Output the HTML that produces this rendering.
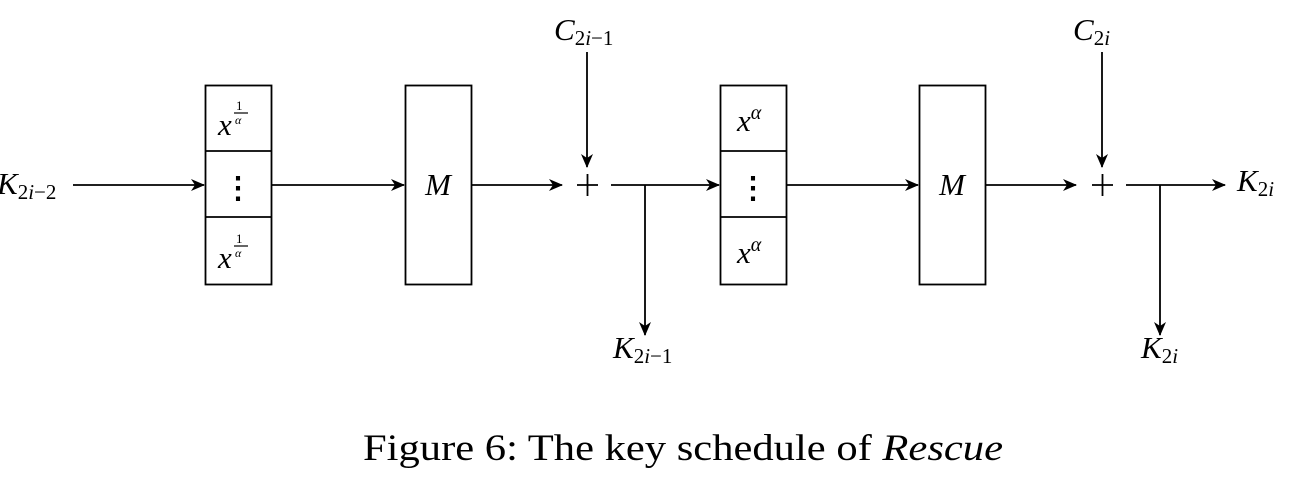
<!DOCTYPE html>
<html><head><meta charset="utf-8"><style>
body{margin:0;background:#fff;width:1291px;height:492px;overflow:hidden}
svg{display:block}
text{font-family:"Liberation Serif",serif;fill:#000}
</style></head><body>
<svg width="1291" height="492" viewBox="0 0 1291 492" xmlns="http://www.w3.org/2000/svg">
<defs><marker id="a" markerWidth="14" markerHeight="12" refX="13" refY="6" orient="auto" markerUnits="userSpaceOnUse"><path d="M0,0 L14,6 L0,12 L4,6 Z" fill="#000"/></marker></defs>
<g stroke="#000" stroke-width="1.8" fill="none">
<rect x="205.5" y="85.5" width="66" height="199"/>
<line x1="205" y1="151" x2="271" y2="151"/><line x1="205" y1="217" x2="271" y2="217"/>
<rect x="405.5" y="85.5" width="66" height="199"/>
<rect x="720.5" y="85.5" width="66" height="199"/>
<line x1="720" y1="151" x2="786" y2="151"/><line x1="720" y1="217" x2="786" y2="217"/>
<rect x="919.5" y="85.5" width="66" height="199"/>
<line x1="73" y1="185" x2="204" y2="185" marker-end="url(#a)"/>
<line x1="272" y1="185" x2="404" y2="185" marker-end="url(#a)"/>
<line x1="472" y1="185" x2="562" y2="185" marker-end="url(#a)"/>
<line x1="611" y1="185" x2="719" y2="185" marker-end="url(#a)"/>
<line x1="787" y1="185" x2="918" y2="185" marker-end="url(#a)"/>
<line x1="986" y1="185" x2="1076" y2="185" marker-end="url(#a)"/>
<line x1="1126" y1="185" x2="1225" y2="185" marker-end="url(#a)"/>
<line x1="587" y1="52" x2="587" y2="167" marker-end="url(#a)"/>
<line x1="1102" y1="52" x2="1102" y2="167" marker-end="url(#a)"/>
<line x1="645" y1="185" x2="645" y2="335" marker-end="url(#a)"/>
<line x1="1160" y1="185" x2="1160" y2="335" marker-end="url(#a)"/>
<line x1="577" y1="185" x2="598" y2="185"/><line x1="587.5" y1="174" x2="587.5" y2="196"/>
<line x1="1092" y1="185" x2="1113" y2="185"/><line x1="1102.5" y1="174" x2="1102.5" y2="196"/>
</g>
<g font-size="31">
<text x="-3" y="194" font-style="italic">K<tspan font-size="21" font-style="normal" dy="5">2<tspan font-style="italic">i</tspan>−2</tspan></text>
<text x="218" y="135" font-style="italic">x</text>
<text x="218" y="268" font-style="italic">x</text>
<text x="236" y="110" font-size="13">1</text><line x1="234" y1="113" x2="248" y2="113" stroke="#000" stroke-width="1.2"/><text x="235" y="124" font-size="12" font-style="italic">α</text>
<text x="236" y="243" font-size="13">1</text><line x1="234" y1="246" x2="248" y2="246" stroke="#000" stroke-width="1.2"/><text x="235" y="257" font-size="12" font-style="italic">α</text>
<text x="238" y="198" text-anchor="middle" font-size="30" font-weight="bold">⋮</text>
<text x="753" y="198" text-anchor="middle" font-size="30" font-weight="bold">⋮</text>
<text x="438" y="195" text-anchor="middle" font-style="italic">M</text>
<text x="952" y="195" text-anchor="middle" font-style="italic">M</text>
<text x="737" y="131" font-style="italic">x<tspan font-size="20" dy="-12">α</tspan></text>
<text x="737" y="263" font-style="italic">x<tspan font-size="20" dy="-12">α</tspan></text>
<text x="554" y="40" font-style="italic">C<tspan font-size="21" font-style="normal" dy="5">2<tspan font-style="italic">i</tspan>−1</tspan></text>
<text x="1073" y="40" font-style="italic">C<tspan font-size="21" font-style="normal" dy="5">2<tspan font-style="italic">i</tspan></tspan></text>
<text x="613" y="358" font-style="italic">K<tspan font-size="21" font-style="normal" dy="5">2<tspan font-style="italic">i</tspan>−1</tspan></text>
<text x="1141" y="358" font-style="italic">K<tspan font-size="21" font-style="normal" dy="5">2<tspan font-style="italic">i</tspan></tspan></text>
<text x="1237" y="191" font-style="italic">K<tspan font-size="21" font-style="normal" dy="5">2<tspan font-style="italic">i</tspan></tspan></text>
</g>
<text x="363" y="460" font-size="37" textLength="640" lengthAdjust="spacingAndGlyphs">Figure 6: The key schedule of <tspan font-style="italic">Rescue</tspan></text>
</svg>
</body></html>
